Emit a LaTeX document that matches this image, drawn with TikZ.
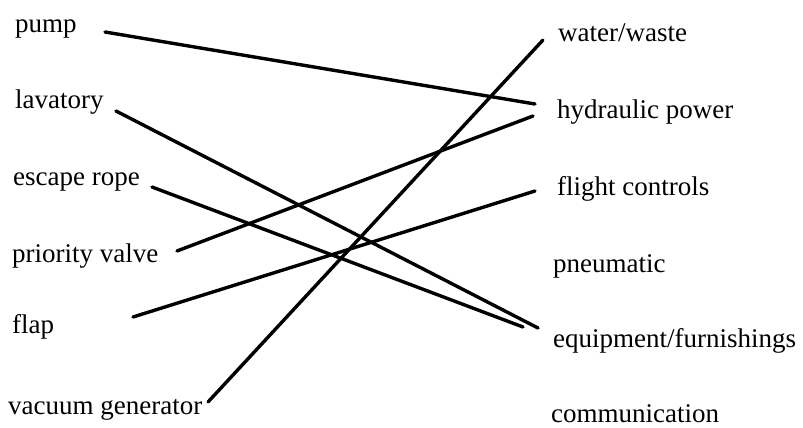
\documentclass[tikz,border=0pt]{standalone}
\usepackage{fontspec}
\setmainfont{Liberation Serif}
\begin{document}
\begin{tikzpicture}[x=1pt,y=-1pt,
  lbl/.style={anchor=base west,inner sep=0pt,font=\fontsize{27}{30}\selectfont},
  conn/.style={line width=3.4pt,line cap=round}]
\useasboundingbox (0,0) rectangle (803,428);
% left labels
\node[lbl] (pump) at (15,33) {pump};
\node[lbl] (lav) at (15,108) {lavatory};
\node[lbl] (rope) at (13,185) {escape rope};
\node[lbl] (prio) at (12,262) {priority valve};
\node[lbl] (flap) at (12,333) {flap};
\node[lbl] (vac) at (8,414) {vacuum generator};
% right labels
\node[lbl] (water) at (558,42) {water/waste};
\node[lbl] (hyd) at (557,118) {hydraulic power};
\node[lbl] (flight) at (557,195) {flight controls};
\node[lbl] (pneu) at (553,272) {pneumatic};
\node[lbl] (equip) at (553,347) {equipment/furnishings};
\node[lbl] (comm) at (551,422) {communication};
% connector end points
\coordinate (pumpE) at (105,32);
\coordinate (lavE) at (116,111);
\coordinate (ropeE) at (152,187);
\coordinate (prioE) at (177,251);
\coordinate (flapE) at (133,317);
\coordinate (vacE) at (208,402);
\coordinate (waterW) at (543,40);
\coordinate (hydWa) at (535,104);
\coordinate (hydWb) at (533,116);
\coordinate (flightW) at (535,191);
\coordinate (equipWa) at (538,328);
\coordinate (equipWb) at (523,327);
% connectors
\draw[conn] (pumpE) -- (hydWa);
\draw[conn] (lavE) -- (equipWa);
\draw[conn] (ropeE) -- (equipWb);
\draw[conn] (prioE) -- (hydWb);
\draw[conn] (flapE) -- (flightW);
\draw[conn] (vacE) -- (waterW);
\end{tikzpicture}
\end{document}
